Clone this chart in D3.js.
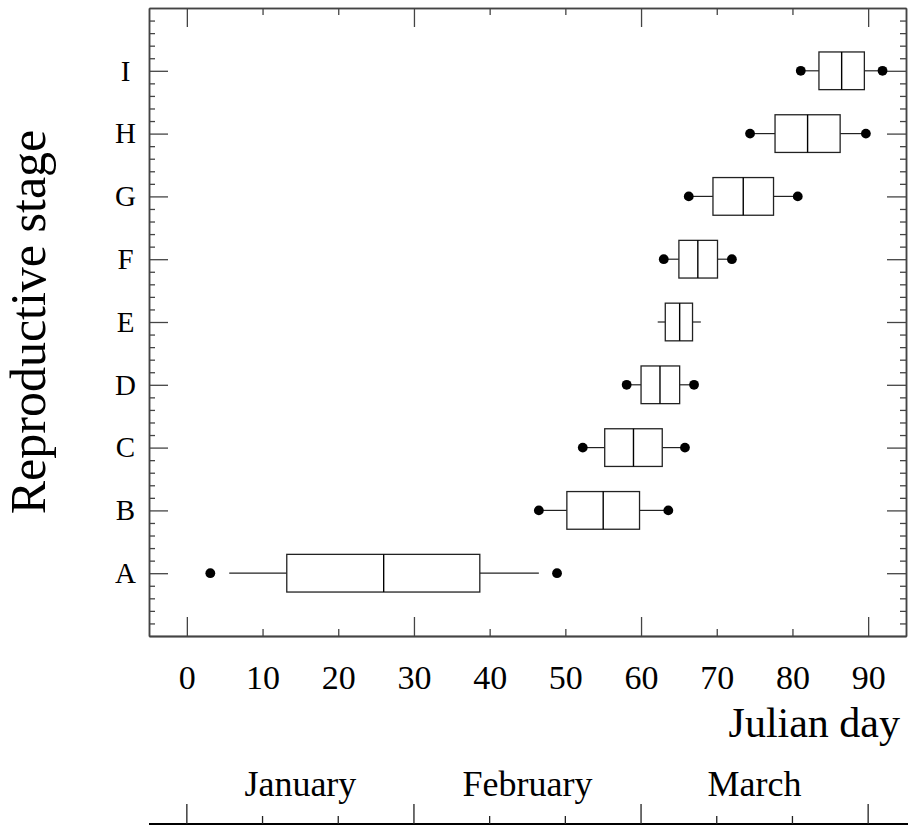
<!DOCTYPE html>
<html>
<head>
<meta charset="utf-8">
<script src="https://cdn.jsdelivr.net/npm/d3@7"></script>
<style>
  html, body { margin: 0; padding: 0; background: #fff; }
  svg { display: block; }
  svg text { font-family: "Liberation Serif", "DejaVu Serif", serif; }
</style>
</head>
<body>
<div id="chart"></div>
<script>
// stages, bottom to top
const stages = ["A", "B", "C", "D", "E", "F", "G", "H", "I"];
const whiskerLow = [5.6, 46.5, 52.3, 58.1, 62.2, 63.0, 66.3, 74.4, 81.1];
const q1 = [13.2, 50.2, 55.2, 60.0, 63.2, 65.0, 69.5, 77.7, 83.5];
const median = [26.0, 55.0, 59.0, 62.5, 65.1, 67.5, 73.5, 82.0, 86.5];
const q3 = [38.7, 59.8, 62.8, 65.1, 66.8, 70.1, 77.5, 86.3, 89.5];
const whiskerHigh = [46.5, 63.6, 65.8, 67.0, 67.9, 72.0, 80.7, 89.7, 91.9];
const dotLow = [3.1, 46.5, 52.3, 58.1, null, 63.0, 66.3, 74.4, 81.1];
const dotHigh = [48.9, 63.6, 65.8, 67.0, null, 72.0, 80.7, 89.7, 91.9];

// axis ticks
const dayLabels = [0, 10, 20, 30, 40, 50, 60, 70, 80, 90];
const dayMajor = [0, 30, 60, 90];
const dayMinor = [10, 20, 40, 50, 70, 80];
const months = ["January", "February", "March"];
const monthMid = [15, 45, 75];

const width = 908, height = 827;
const plotLeft = 149, plotRight = 906, plotTop = 8, plotBottom = 636;
const serif = "Liberation Serif";

const svg = d3.select("#chart").append("svg")
  .attr("width", width)
  .attr("height", height);

const x = d3.scaleLinear().domain([-5, 95]).range([plotLeft, plotRight]);
const y = d3.scaleLinear().domain([0, 10]).range([plotBottom, plotTop]);

const stageTicks = stages.map((s, i) => i + 1);
const stageMinor = d3.range(1, 50).map(d => d / 5).filter(d => d % 1 !== 0);

const axisColor = "#444";

function styleAxis(g) {
  g.select(".domain").attr("stroke", axisColor).attr("stroke-width", 1.5);
  g.selectAll(".tick line").attr("stroke", axisColor).attr("stroke-width", 1.3);
}

// bottom axis (labelled)
const gBottom = svg.append("g")
  .attr("transform", `translate(0,${plotBottom})`)
  .call(d3.axisBottom(x).tickValues(dayLabels).tickSizeInner(0).tickSizeOuter(0).tickPadding(29));
gBottom.selectAll("text")
  .attr("font-family", serif)
  .attr("font-size", 34)
  .attr("fill", "#000");
styleAxis(gBottom);

svg.append("g")
  .attr("transform", `translate(0,${plotBottom})`)
  .call(d3.axisBottom(x).tickValues(dayMajor).tickSizeInner(-19).tickSizeOuter(0).tickFormat(""))
  .call(styleAxis);
svg.append("g")
  .attr("transform", `translate(0,${plotBottom})`)
  .call(d3.axisBottom(x).tickValues(dayMinor).tickSizeInner(-7).tickSizeOuter(0).tickFormat(""))
  .call(styleAxis);

// top axis
svg.append("g")
  .attr("transform", `translate(0,${plotTop})`)
  .call(d3.axisTop(x).tickValues(dayMajor).tickSizeInner(-19).tickSizeOuter(0).tickFormat(""))
  .call(styleAxis);
svg.append("g")
  .attr("transform", `translate(0,${plotTop})`)
  .call(d3.axisTop(x).tickValues(dayMinor).tickSizeInner(-7).tickSizeOuter(0).tickFormat(""))
  .call(styleAxis);

// left axis (labelled)
const gLeft = svg.append("g")
  .attr("transform", `translate(${plotLeft},0)`)
  .call(d3.axisLeft(y).tickValues(stageTicks).tickSizeInner(-19).tickSizeOuter(0)
    .tickFormat(d => stages[d - 1]));
gLeft.selectAll("text")
  .attr("font-family", serif)
  .attr("font-size", 29)
  .attr("fill", "#000")
  .attr("text-anchor", "middle")
  .attr("x", -23.5);
styleAxis(gLeft);
svg.append("g")
  .attr("transform", `translate(${plotLeft},0)`)
  .call(d3.axisLeft(y).tickValues(stageMinor).tickSizeInner(-6).tickSizeOuter(0).tickFormat(""))
  .call(styleAxis);

// right axis
svg.append("g")
  .attr("transform", `translate(${plotRight},0)`)
  .call(d3.axisRight(y).tickValues(stageTicks).tickSizeInner(-19).tickSizeOuter(0).tickFormat(""))
  .call(styleAxis);
svg.append("g")
  .attr("transform", `translate(${plotRight},0)`)
  .call(d3.axisRight(y).tickValues(stageMinor).tickSizeInner(-6).tickSizeOuter(0).tickFormat(""))
  .call(styleAxis);

// boxes
const rows = stages.map((s, i) => ({
  stage: s, pos: i + 1,
  wl: whiskerLow[i], q1: q1[i], med: median[i], q3: q3[i], wh: whiskerHigh[i],
  dl: dotLow[i], dh: dotHigh[i]
}));

const boxColor = "#222";
const half = 0.3;

const gBox = svg.append("g");
const row = gBox.selectAll("g.row").data(rows).enter().append("g").attr("class", "row");

row.append("line")
  .attr("x1", d => x(d.wl)).attr("x2", d => x(d.q1))
  .attr("y1", d => y(d.pos)).attr("y2", d => y(d.pos))
  .attr("stroke", boxColor).attr("stroke-width", 1.2);
row.append("line")
  .attr("x1", d => x(d.q3)).attr("x2", d => x(d.wh))
  .attr("y1", d => y(d.pos)).attr("y2", d => y(d.pos))
  .attr("stroke", boxColor).attr("stroke-width", 1.2);
row.append("rect")
  .attr("x", d => x(d.q1))
  .attr("y", d => y(d.pos + half))
  .attr("width", d => x(d.q3) - x(d.q1))
  .attr("height", d => y(d.pos - half) - y(d.pos + half))
  .attr("fill", "#fff")
  .attr("stroke", boxColor).attr("stroke-width", 1.3);
row.append("line")
  .attr("x1", d => x(d.med)).attr("x2", d => x(d.med))
  .attr("y1", d => y(d.pos + half)).attr("y2", d => y(d.pos - half))
  .attr("stroke", "#000").attr("stroke-width", 1.4);

const dots = rows.flatMap(d => [d.dl, d.dh].filter(v => v != null).map(v => ({ v, pos: d.pos })));
gBox.selectAll("circle").data(dots).enter().append("circle")
  .attr("cx", d => x(d.v))
  .attr("cy", d => y(d.pos))
  .attr("r", 4.9)
  .attr("fill", "#000");

// axis titles
svg.append("text")
  .attr("transform", `translate(45,${(plotTop + plotBottom) / 2}) rotate(-90)`)
  .attr("text-anchor", "middle")
  .attr("font-family", serif)
  .attr("font-size", 50)
  .text("Reproductive stage");

svg.append("text")
  .attr("x", 900).attr("y", 737)
  .attr("text-anchor", "end")
  .attr("font-family", serif)
  .attr("font-size", 42)
  .text("Julian day");

// month axis
const monthY = 824;
const gMonth = svg.append("g").attr("transform", `translate(0,${monthY})`);
gMonth.append("line")
  .attr("x1", plotLeft).attr("x2", width)
  .attr("stroke", "#000").attr("stroke-width", 2);
gMonth.selectAll("line.major").data(dayMajor).enter().append("line")
  .attr("class", "major")
  .attr("x1", d => x(d)).attr("x2", d => x(d))
  .attr("y1", 0).attr("y2", -20)
  .attr("stroke", "#222").attr("stroke-width", 1.3);
gMonth.selectAll("line.minor").data(dayMinor).enter().append("line")
  .attr("class", "minor")
  .attr("x1", d => x(d)).attr("x2", d => x(d))
  .attr("y1", 0).attr("y2", -8)
  .attr("stroke", "#222").attr("stroke-width", 1.3);
gMonth.selectAll("text").data(months).enter().append("text")
  .attr("x", (d, i) => x(monthMid[i]))
  .attr("y", 796 - monthY)
  .attr("text-anchor", "middle")
  .attr("font-family", serif)
  .attr("font-size", 36)
  .text(d => d);
</script>
</body>
</html>
